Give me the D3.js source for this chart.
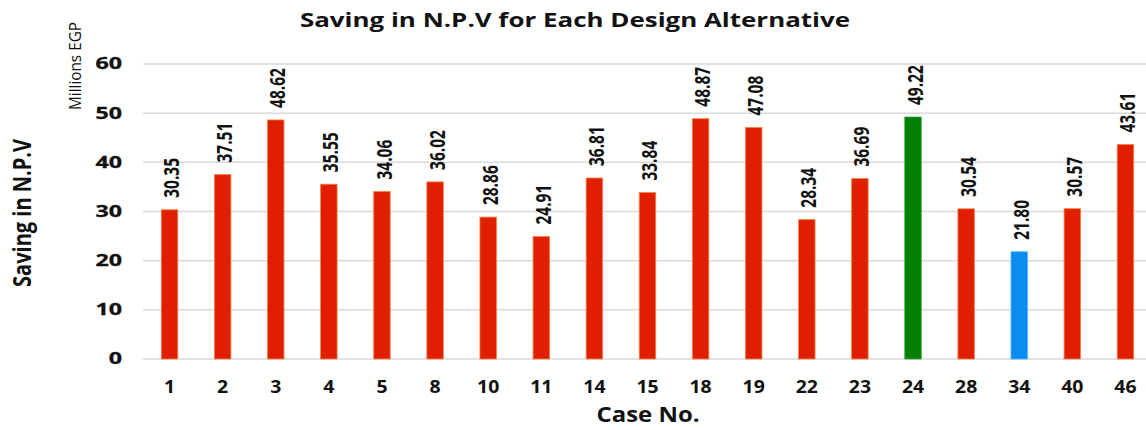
<!DOCTYPE html>
<html>
<head>
<meta charset="utf-8">
<script src="https://cdn.jsdelivr.net/npm/d3@7"></script>
<style>
  html, body { margin: 0; padding: 0; background: #fff; }
  svg { display: block; }
  text { font-family: "Open Sans", "DejaVu Sans", sans-serif; }
</style>
</head>
<body>
<svg id="chart" width="1146" height="430"></svg>
<script>
// Case numbers on the x axis
const cases = ["1", "2", "3", "4", "5", "8", "10", "11", "14", "15", "18", "19", "22", "23", "24", "28", "34", "40", "46"];
// Saving in N.P.V, millions EGP
const savings = [30.35, 37.51, 48.62, 35.55, 34.06, 36.02, 28.86, 24.91, 36.81, 33.84, 48.87, 47.08, 28.34, 36.69, 49.22, 30.54, 21.80, 30.57, 43.61];
// Highlighted cases: best (green) and lowest (blue)
const bestCase = "24";
const lowestCase = "34";
const yTicks = [0, 10, 20, 30, 40, 50, 60];

const svg = d3.select("#chart");
const margin = { left: 143, right: -6, top: 64, bottom: 71 };
const W = 1146, H = 430;
const ink = "#111";

const x = d3.scaleBand()
  .domain(cases)
  .range([margin.left, W - margin.right])
  .paddingInner(0.69)
  .paddingOuter(0.345);

const y = d3.scaleLinear()
  .domain([0, 60])
  .range([H - margin.bottom, margin.top]);

// Gridlines
svg.append("g")
  .selectAll("line")
  .data(yTicks)
  .join("line")
  .attr("x1", margin.left)
  .attr("x2", W - margin.right)
  .attr("y1", d => y(d))
  .attr("y2", d => y(d))
  .attr("stroke", "#d9d9d9")
  .attr("stroke-width", 1.5);

// Y axis tick labels (wide bold digits)
const yAxis = svg.append("g")
  .attr("transform", `translate(${margin.left - 21},0)`)
  .call(d3.axisLeft(y).tickValues(yTicks).tickSize(0).tickPadding(0));
yAxis.select(".domain").remove();
yAxis.selectAll("text")
  .attr("x", 0)
  .attr("transform", "scale(1.5,1)")
  .attr("font-size", 15.5)
  .attr("font-weight", "bold")
  .attr("stroke", ink)
  .attr("stroke-width", 0.3)
  .attr("fill", ink);

// X axis tick labels
const xAxis = svg.append("g")
  .attr("transform", `translate(0,${H - margin.bottom})`)
  .call(d3.axisBottom(x).tickSize(0).tickPadding(0));
xAxis.select(".domain").remove();
xAxis.selectAll("text")
  .attr("y", 0)
  .attr("dy", 0)
  .attr("transform", "translate(0,34) scale(1.08,1)")
  .attr("font-size", 18)
  .attr("font-weight", "bold")
  .attr("fill", ink);

const fillFor = c => c === bestCase ? "#048004" : c === lowestCase ? "#0a8cf0" : "#e01e00";
const strokeFor = c => c === bestCase ? "#3aa03a" : c === lowestCase ? "#4fb0ff" : "#f5803c";

// Bars
svg.append("g")
  .selectAll("rect")
  .data(cases)
  .join("rect")
  .attr("x", c => x(c))
  .attr("width", x.bandwidth())
  .attr("y", (c, i) => y(savings[i]))
  .attr("height", (c, i) => y(0) - y(savings[i]))
  .attr("fill", fillFor)
  .attr("stroke", strokeFor)
  .attr("stroke-width", 0.8);

// Value labels, rotated and read bottom to top
svg.append("g")
  .selectAll("text")
  .data(cases)
  .join("text")
  .attr("transform", (c, i) =>
    `translate(${x(c) + x.bandwidth() / 2 + 2},${y(savings[i]) - 12}) scale(1.35,1) rotate(-90)`)
  .attr("dy", "0.36em")
  .attr("text-anchor", "start")
  .attr("font-size", 15.5)
  .attr("font-weight", "bold")
  .attr("fill", ink)
  .text((c, i) => savings[i].toFixed(2));

// Title
svg.append("text")
  .attr("transform", "translate(575,27) scale(1.33,1)")
  .attr("text-anchor", "middle")
  .attr("font-size", 19.5)
  .attr("font-weight", "bold")
  .attr("fill", ink)
  .text("Saving in N.P.V for Each Design Alternative");

// Y axis title
svg.append("text")
  .attr("transform", "translate(22,213) scale(1.25,1) rotate(-90)")
  .attr("dy", "0.36em")
  .attr("text-anchor", "middle")
  .attr("font-size", 20)
  .attr("font-weight", "bold")
  .attr("fill", ink)
  .text("Saving in N.P.V");

// Units label
svg.append("text")
  .attr("transform", "translate(74.5,66) scale(1.3,1) rotate(-90)")
  .attr("dy", "0.36em")
  .attr("text-anchor", "middle")
  .attr("font-size", 13)
  .attr("textLength", 88)
  .attr("lengthAdjust", "spacingAndGlyphs")
  .attr("fill", ink)
  .text("Millions EGP");

// X axis title
svg.append("text")
  .attr("transform", "translate(648,422) scale(1.14,1)")
  .attr("text-anchor", "middle")
  .attr("font-size", 21)
  .attr("font-weight", "bold")
  .attr("fill", ink)
  .text("Case No.");
</script>
</body>
</html>
